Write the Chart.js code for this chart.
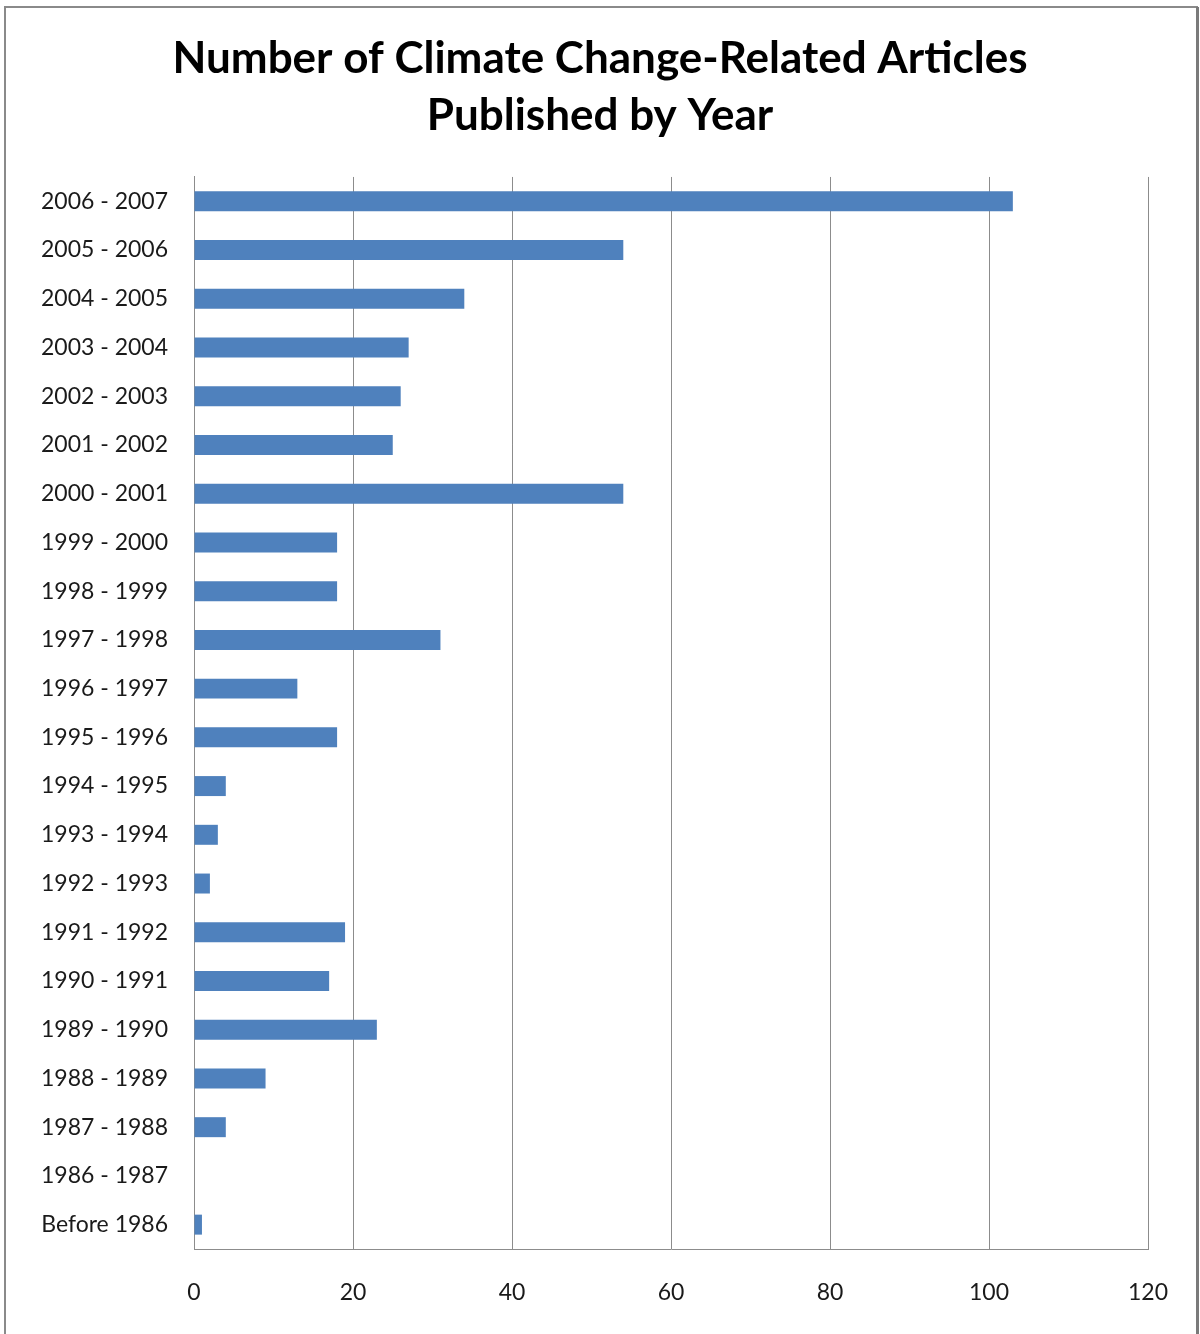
<!DOCTYPE html>
<html lang="en">
	<head>
		<meta charset="utf-8" />
		<title>Climate Change Articles</title>
		<script src="https://cdn.jsdelivr.net/npm/chart.js"></script>
		<style>
			html, body { margin: 0; padding: 0; background: #ffffff; }
			.graphic { position: absolute; left: 0; top: 0; width: 1200px; height: 1334px; }
		</style>
	</head>
	<body>
		<div class="graphic">
			<canvas id="myChart" width="1200" height="1334"></canvas>
		</div>
		<script>
			// Data (top to bottom)
			const periods = [
				'2006 - 2007', '2005 - 2006', '2004 - 2005', '2003 - 2004', '2002 - 2003',
				'2001 - 2002', '2000 - 2001', '1999 - 2000', '1998 - 1999', '1997 - 1998',
				'1996 - 1997', '1995 - 1996', '1994 - 1995', '1993 - 1994', '1992 - 1993',
				'1991 - 1992', '1990 - 1991', '1989 - 1990', '1988 - 1989', '1987 - 1988',
				'1986 - 1987', 'Before 1986'
			];
			const articles = [103, 54, 34, 27, 26, 25, 54, 18, 18, 31, 13, 18, 4, 3, 2, 19, 17, 23, 9, 4, 0, 1];
			const titleLines = ['Number of Climate Change-Related Articles', 'Published by Year'];
			const xMax = 120;
			const xStep = 20;

			// frame around the chart
			const frame = {
				id: 'frame',
				beforeDraw(chart) {
					const ctx = chart.ctx;
					ctx.save();
					ctx.fillStyle = '#ffffff';
					ctx.fillRect(0, 0, chart.width, chart.height);
					ctx.strokeStyle = '#8a8a8a';
					ctx.lineWidth = 2;
					ctx.strokeRect(5, 7, 1192, 1340);
					ctx.fillStyle = '#7a7a7a';
					ctx.fillRect(1196, 7, 3, 1330);
					ctx.restore();
				}
			};

			const data = {
				labels: periods,
				datasets: [{
					label: 'Articles',
					data: articles,
					backgroundColor: '#4f81bd',
					borderWidth: 0,
					barPercentage: 0.82,
					categoryPercentage: 0.5
				}]
			};

			const config = {
				type: 'bar',
				data: data,
				plugins: [frame],
				options: {
					indexAxis: 'y',
					responsive: false,
					animation: false,
					layout: { padding: 0 },
					plugins: {
						legend: { display: false },
						tooltip: { enabled: false },
						title: {
							display: true,
							text: titleLines,
							color: '#000000',
							font: { family: 'Lato', size: 44, weight: 'bold', lineHeight: 1.295 },
							padding: { top: 30, bottom: 33 }
						}
					},
					scales: {
						x: {
							min: 0,
							max: xMax,
							ticks: {
								stepSize: xStep,
								color: '#1a1a1a',
								font: { family: 'Lato', size: 23 },
								padding: 30
							},
							grid: { color: '#8c8c8c', lineWidth: 1, drawTicks: false },
							border: { display: true, color: '#8c8c8c', width: 1 },
							afterFit(scale) { scale.height = 85; }
						},
						y: {
							ticks: {
								color: '#1a1a1a',
								font: { family: 'Lato', size: 23 },
								padding: 26,
								autoSkip: false
							},
							grid: { display: false, drawTicks: false },
							border: { display: true, color: '#8c8c8c', width: 1 },
							afterFit(scale) { scale.width = 194; }
						},
						// empty right-hand spacer so the title stays centred on the page
						ySpacer: {
							type: 'linear',
							position: 'right',
							ticks: { display: false },
							grid: { display: false, drawTicks: false },
							border: { display: false },
							afterFit(scale) { scale.width = 52; }
						}
					}
				}
			};

			new Chart(document.getElementById('myChart'), config);
		</script>
	</body>
</html>
